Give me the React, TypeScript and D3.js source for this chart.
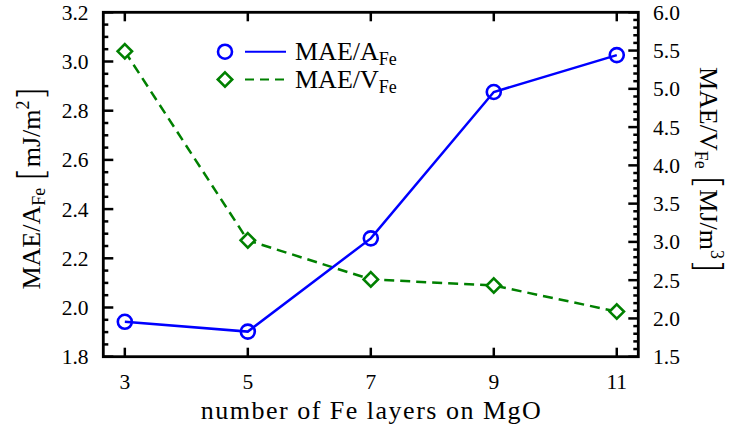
import React from "react";
import * as d3 from "d3";

const layers = [3, 5, 7, 9, 11];
const maeA = [1.942, 1.902, 2.281, 2.876, 3.026];
const maeV = [5.49, 3.02, 2.51, 2.43, 2.09];
const leftTicks = [1.8, 2.0, 2.2, 2.4, 2.6, 2.8, 3.0, 3.2];
const rightTicks = [1.5, 2.0, 2.5, 3.0, 3.5, 4.0, 4.5, 5.0, 5.5, 6.0];

const W = 731, H = 428;
const L = 103.3, R = 638.3, T = 12.3, B = 356.7;
const FONT = '"Liberation Serif", "DejaVu Serif", "Times New Roman", serif';
const BRACKET_FONT = '"DejaVu Sans ExtraLight", "DejaVu Sans", sans-serif';
const BLUE = "#0000ff";
const GREEN = "#008000";
const TICK_FS = 21.5;
const LAB_FS = 26;
const SUB_FS = 18;

export default function App() {
  const x = d3.scaleLinear().domain([2.65, 11.35]).range([L, R]);
  const yL = d3.scaleLinear().domain([1.8, 3.2]).range([B, T]);
  const yR = d3.scaleLinear().domain([1.5, 6.0]).range([B, T]);

  const leftMinor = d3.range(0, 29).map((i) => 1.8 + i * 0.05).filter((v, i) => i % 4 !== 0);
  const rightMinor = d3.range(0, 46).map((i) => 1.5 + i * 0.1).filter((v, i) => i % 5 !== 0);

  const lineA = d3.line<number>().x((_, i) => x(layers[i])).y((d) => yL(d));
  const lineV = d3.line<number>().x((_, i) => x(layers[i])).y((d) => yR(d));

  const diamond = (cx: number, cy: number, r: number) =>
    `M${cx},${cy - r}L${cx + r},${cy}L${cx},${cy + r}L${cx - r},${cy}Z`;

  return (
    <svg width={W} height={H} style={{ position: "absolute", left: 0, top: 0, background: "#fff", fontFamily: FONT }}>
      {/* data lines */}
      <path d={lineV(maeV) || ""} fill="none" stroke={GREEN} strokeWidth={2.5} strokeDasharray="10,6" />
      <path d={lineA(maeA) || ""} fill="none" stroke={BLUE} strokeWidth={2.5} />
      {maeV.map((v, i) => (
        <path key={"d" + i} d={diamond(x(layers[i]), yR(v), 7.2)} fill="#fff" stroke={GREEN} strokeWidth={2.6} />
      ))}
      {maeA.map((v, i) => (
        <circle key={"c" + i} cx={x(layers[i])} cy={yL(v)} r={7} fill="none" stroke={BLUE} strokeWidth={2.6} />
      ))}

      {/* frame */}
      <rect x={L} y={T} width={R - L} height={B - T} fill="none" stroke="#000" strokeWidth={2.8} />

      {/* x ticks */}
      {layers.map((v) => (
        <g key={"x" + v}>
          <line x1={x(v)} x2={x(v)} y1={B} y2={B - 9} stroke="#000" strokeWidth={2.5} />
          <line x1={x(v)} x2={x(v)} y1={T} y2={T + 9} stroke="#000" strokeWidth={2.5} />
          <text x={x(v)} y={389} textAnchor="middle" fontSize={TICK_FS}>{v}</text>
        </g>
      ))}

      {/* left ticks */}
      {leftTicks.map((v) => (
        <g key={"l" + v}>
          <line x1={L} x2={L + 10} y1={yL(v)} y2={yL(v)} stroke="#000" strokeWidth={2.5} />
          <text x={88.5} y={yL(v) + 7.5} textAnchor="end" fontSize={TICK_FS}>{v.toFixed(1)}</text>
        </g>
      ))}
      {leftMinor.map((v, i) => (
        <line key={"lm" + i} x1={L} x2={L + 5} y1={yL(v)} y2={yL(v)} stroke="#000" strokeWidth={2.5} />
      ))}

      {/* right ticks */}
      {rightTicks.map((v) => (
        <g key={"r" + v}>
          <line x1={R} x2={R - 10} y1={yR(v)} y2={yR(v)} stroke="#000" strokeWidth={2.5} />
          <text x={653} y={yR(v) + 7.5} textAnchor="start" fontSize={TICK_FS}>{v.toFixed(1)}</text>
        </g>
      ))}
      {rightMinor.map((v, i) => (
        <line key={"rm" + i} x1={R} x2={R - 5} y1={yR(v)} y2={yR(v)} stroke="#000" strokeWidth={2.5} />
      ))}

      {/* x label */}
      <text x={(L + R) / 2} y={419} textAnchor="middle" fontSize={LAB_FS}
        textLength={340} lengthAdjust="spacing">number of Fe layers on MgO</text>

      {/* left y label */}
      <text transform={`translate(40, 188) rotate(-90)`} textAnchor="middle" fontSize={LAB_FS}>
        MAE/A<tspan fontSize={SUB_FS} dy={5}>Fe</tspan>
        <tspan dy={-5}> </tspan>
        <tspan fontSize={36} dy={3} fontFamily={BRACKET_FONT} fontWeight={200}>[</tspan>
        <tspan dy={-3}>mJ/m</tspan>
        <tspan fontSize={SUB_FS} dy={-11}>2</tspan>
        <tspan fontSize={36} dy={14} fontFamily={BRACKET_FONT} fontWeight={200}>]</tspan>
      </text>

      {/* right y label */}
      <text transform={`translate(700, 170) rotate(90)`} textAnchor="middle" fontSize={LAB_FS}>
        MAE/V<tspan fontSize={SUB_FS} dy={5}>Fe</tspan>
        <tspan dy={-5}> </tspan>
        <tspan fontSize={36} dy={3} fontFamily={BRACKET_FONT} fontWeight={200}>[</tspan>
        <tspan dy={-3}>MJ/m</tspan>
        <tspan fontSize={SUB_FS} dy={-11}>3</tspan>
        <tspan fontSize={36} dy={14} fontFamily={BRACKET_FONT} fontWeight={200}>]</tspan>
      </text>

      {/* legend */}
      <circle cx={225} cy={51.7} r={7} fill="none" stroke={BLUE} strokeWidth={2.6} />
      <line x1={245} x2={286} y1={51.7} y2={51.7} stroke={BLUE} strokeWidth={2} />
      <text x={295} y={60} fontSize={LAB_FS}>
        MAE/A<tspan fontSize={SUB_FS} dy={5}>Fe</tspan>
      </text>
      <path d={diamond(225, 79.5, 7.2)} fill="#fff" stroke={GREEN} strokeWidth={2.6} />
      <line x1={245} x2={286} y1={79.5} y2={79.5} stroke={GREEN} strokeWidth={2} strokeDasharray="9,6" />
      <text x={295} y={88} fontSize={LAB_FS}>
        MAE/V<tspan fontSize={SUB_FS} dy={5}>Fe</tspan>
      </text>
    </svg>
  );
}
